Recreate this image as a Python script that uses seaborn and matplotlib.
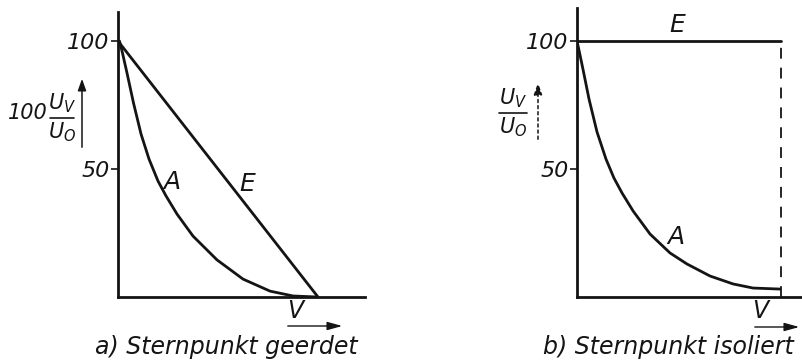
import matplotlib
matplotlib.use("Agg")
import matplotlib.pyplot as plt
from matplotlib.lines import Line2D
from matplotlib.patches import FancyArrowPatch
import pandas as pd
import seaborn as sns

sns.set_theme(style="white")
plt.rcParams["font.family"] = ["DejaVu Sans"]
plt.rcParams["mathtext.fontset"] = "dejavusans"

# a) grounded neutral: voltage ratio 100*Uv/U0 along the line V
v_a_grounded = [0.0075, 0.0225, 0.045, 0.0775, 0.115, 0.155, 0.2, 0.24, 0.295,
                0.375, 0.495, 0.625, 0.76, 0.875, 0.995]
u_a_grounded = [100, 95.3, 87.5, 75.8, 63.7, 53.9, 45.3, 39.5, 32.4,
                23.8, 14.5, 7.0, 2.3, 0.4, 0.0]
v_e_grounded = [0.0, 1.0]
u_e_grounded = [100, 0]

# b) isolated neutral
v_a_isolated = [0.0, 0.0074, 0.029, 0.059, 0.098, 0.142, 0.181, 0.221, 0.275,
                0.358, 0.456, 0.539, 0.652, 0.765, 0.863, 0.995]
u_a_isolated = [100, 97.3, 89.1, 77.3, 64.5, 53.9, 46.5, 40.6, 33.6,
                24.6, 17.2, 12.9, 8.2, 5.1, 3.5, 3.1]
v_e_isolated = [0.0, 1.0]
u_e_isolated = [100, 100]

y_ticks = [50, 100]
y_tick_labels = ["50", "100"]

INK = "#141414"
LW = 2.0

fig = plt.figure(figsize=(8.02, 3.61), dpi=100)
W, H = 802, 361


def fx(px):
    return px / W


def fy(py):
    return 1 - py / H


def make_axes(left_px, width_px, top_px, axis_px):
    return fig.add_axes([left_px / W, (H - axis_px) / H,
                         width_px / W, (axis_px - top_px) / H])


def style_axes(ax, xmax, ymax):
    ax.set_xlim(0, xmax)
    ax.set_ylim(0, ymax)
    for s in ("top", "right"):
        ax.spines[s].set_visible(False)
    for s in ("left", "bottom"):
        ax.spines[s].set_color(INK)
        ax.spines[s].set_linewidth(LW)
    ax.set_xticks([])
    ax.set_yticks(y_ticks)
    ax.set_yticklabels(y_tick_labels, fontsize=16, fontstyle="italic", color=INK)
    ax.tick_params(axis="y", direction="out", length=5, width=1.2, color=INK,
                   pad=1, left=True)
    ax.set_xlabel("")
    ax.set_ylabel("")
    ax.set_facecolor("white")


def draw_curve(ax, xs, ys, **kw):
    df = pd.DataFrame({"V": xs, "U": ys})
    sns.lineplot(data=df, x="V", y="U", ax=ax, color=INK, linewidth=LW,
                 sort=False, estimator=None, legend=False, **kw)
    line = ax.lines[-1]
    line.set_solid_joinstyle("round")
    line.set_solid_capstyle("round")
    return line


def ratio_label(cx, line_y, half_w, prefix_x=None):
    # stacked fraction Uv / U0 drawn as separate text pieces
    fig.text(fx(cx), fy(line_y - 3), r"$U_V$", fontsize=15, ha="center",
             va="bottom", color=INK)
    fig.text(fx(cx), fy(line_y + 2), r"$U_O$", fontsize=15, ha="center",
             va="top", color=INK)
    fig.add_artist(Line2D([fx(cx - half_w), fx(cx + half_w)],
                          [fy(line_y), fy(line_y)], color=INK, lw=1.2))
    if prefix_x is not None:
        fig.text(fx(prefix_x), fy(line_y - 5), "100", fontsize=15,
                 fontstyle="italic", ha="center", va="center", color=INK)


def up_arrow(x, y_top, y_bottom, ls="-"):
    fig.add_artist(FancyArrowPatch(
        (fx(x), fy(y_bottom)), (fx(x), fy(y_top)),
        transform=fig.transFigure,
        arrowstyle="-|>,head_length=7,head_width=2.5",
        color=INK, lw=1.1, linestyle=ls, mutation_scale=1))


def right_arrow(x0, x1, y):
    fig.add_artist(FancyArrowPatch(
        (fx(x0), fy(y)), (fx(x1), fy(y)),
        transform=fig.transFigure,
        arrowstyle="-|>,head_length=9,head_width=2.5",
        color=INK, lw=1.0, mutation_scale=1))


# ---- panel a ----
ax1 = make_axes(118, 247, 12, 297)
draw_curve(ax1, v_a_grounded, u_a_grounded)
draw_curve(ax1, v_e_grounded, u_e_grounded)
style_axes(ax1, 247 / 200, (296 - 12) / 2.56 + 0.4)
fig.text(fx(172), fy(182), "A", fontsize=18, fontstyle="italic",
         ha="center", va="center", color=INK)
fig.text(fx(247), fy(184), "E", fontsize=18, fontstyle="italic",
         ha="center", va="center", color=INK)
ratio_label(62, 118, 12, prefix_x=28)
up_arrow(82, 76, 150)
fig.text(fx(295), fy(311), "V", fontsize=17, fontstyle="italic",
         ha="center", va="center", color=INK)
right_arrow(285, 345, 326)

# ---- panel b ----
ax2 = make_axes(577, 225, 8, 297)
draw_curve(ax2, v_a_isolated, u_a_isolated)
draw_curve(ax2, v_e_isolated, u_e_isolated)
edge = draw_curve(ax2, [v_e_isolated[-1], v_e_isolated[-1]],
                  [0, u_e_isolated[-1]], linestyle=(0, (6, 5)))
edge.set_linewidth(1.3)
style_axes(ax2, 225 / 204, (296 - 8) / 2.56 + 0.4)
fig.text(fx(677), fy(25), "E", fontsize=18, fontstyle="italic",
         ha="center", va="center", color=INK)
fig.text(fx(676), fy(237), "A", fontsize=18, fontstyle="italic",
         ha="center", va="center", color=INK)
ratio_label(513, 113, 14)
up_arrow(538, 80, 142, ls=(0, (2, 2)))
fig.text(fx(760), fy(311), "V", fontsize=17, fontstyle="italic",
         ha="center", va="center", color=INK)
right_arrow(752, 802, 327)

# captions
fig.text(fx(226), fy(347), "a) Sternpunkt geerdet", fontsize=17,
         fontstyle="italic", ha="center", va="center", color=INK)
fig.text(fx(668), fy(347), "b) Sternpunkt isoliert", fontsize=17,
         fontstyle="italic", ha="center", va="center", color=INK)

fig.savefig("out.png", dpi=100, facecolor="white")
